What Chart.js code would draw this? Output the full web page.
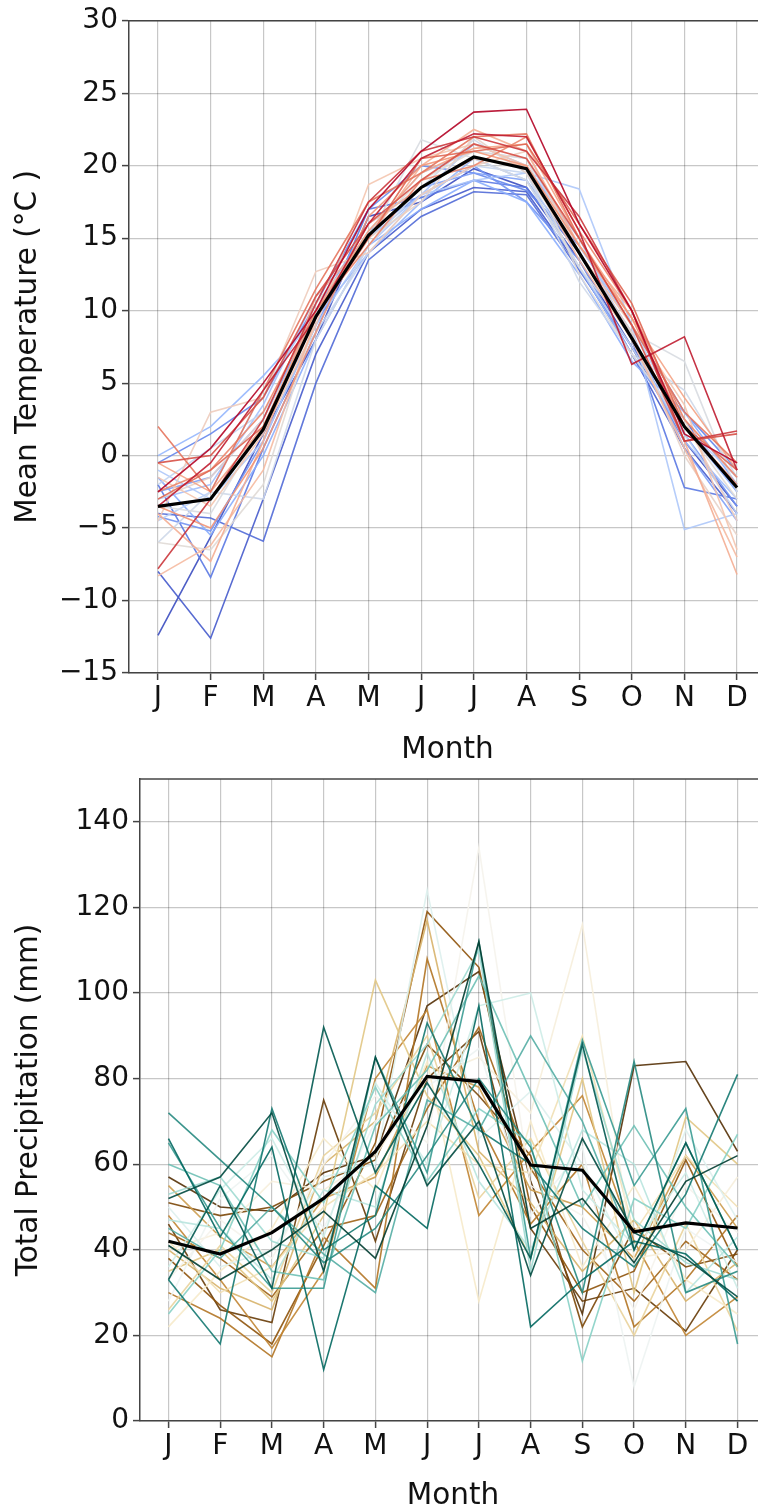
<!DOCTYPE html>
<html>
<head>
<meta charset="utf-8">
<script src="https://cdn.jsdelivr.net/npm/chart.js@4.4.1/dist/chart.umd.min.js"></script>
<style>
  html, body { margin: 0; padding: 0; background: #fff; overflow: hidden; width: 758px; height: 1512px; }
  #topBox { position: absolute; left: 0; top: 0; width: 780px; height: 770px; }
  #botBox { position: absolute; left: 0; top: 755px; width: 780px; height: 760px; }
</style>
</head>
<body>
<div id="topBox"><canvas id="tempChart"></canvas></div>
<div id="botBox"><canvas id="precipChart"></canvas></div>
<script>
// Data
const months = ['J', 'F', 'M', 'A', 'M', 'J', 'J', 'A', 'S', 'O', 'N', 'D'];
const tempTicks = [-15, -10, -5, 0, 5, 10, 15, 20, 25, 30];
const precipTicks = [0, 20, 40, 60, 80, 100, 120, 140];

const tempMean = [-3.5, -3.0, 1.8, 9.6, 15.2, 18.5, 20.6, 19.8, 14.0, 8.1, 2.0, -2.2];
const tempYears = [
    [-12.4, -5.6, 1.5, 8.0, 16.5, 17.5, 19.8, 18.5, 13.5, 7.5, 1.0, -3.5],
    [-8.0, -12.6, -3.0, 7.0, 14.0, 17.0, 18.5, 18.2, 13.0, 7.0, 0.5, -4.0],
    [-4.0, -4.3, -5.9, 5.0, 13.5, 16.5, 18.2, 18.0, 12.8, 7.5, 2.5, -2.5],
    [-2.0, -8.4, 0.5, 8.5, 17.0, 17.8, 19.0, 18.5, 14.0, 8.0, -2.2, -3.0],
    [-0.5, 1.5, 4.0, 10.5, 17.0, 20.0, 19.5, 18.3, 14.5, 9.0, 3.0, -1.0],
    [-4.2, -5.2, 1.0, 9.0, 15.5, 18.0, 20.0, 17.5, 13.5, 7.0, 1.5, -3.5],
    [-2.5, -1.5, 2.5, 10.0, 16.0, 18.5, 19.5, 19.0, 14.0, 8.5, 0.5, -4.5],
    [-1.5, -5.5, 0.0, 8.0, 14.5, 17.0, 19.0, 17.5, 12.5, 6.5, 3.0, -2.0],
    [0.0, 2.0, 5.5, 9.5, 14.0, 17.5, 20.5, 19.0, 13.0, 7.0, 2.0, -2.5],
    [-3.0, -2.0, 3.5, 11.0, 15.0, 18.0, 21.5, 20.0, 15.0, 8.0, 1.0, -3.0],
    [-1.0, -3.0, 1.0, 9.0, 14.5, 18.0, 19.0, 19.5, 18.4, 9.0, -5.1, -4.0],
    [-4.5, -2.5, 4.5, 10.0, 15.5, 19.5, 21.0, 20.5, 14.5, 9.0, 2.0, -1.5],
    [-2.0, 0.5, 3.0, 8.5, 14.0, 18.0, 20.0, 19.5, 13.0, 7.5, 1.5, -4.0],
    [-6.0, -2.5, -3.0, 8.0, 14.5, 18.5, 21.8, 19.5, 12.0, 7.0, 4.5, -1.5],
    [-3.5, -4.0, 2.0, 10.0, 15.0, 21.8, 20.5, 19.0, 13.0, 8.5, 6.5, -2.5],
    [-6.0, -6.5, -2.0, 9.5, 15.5, 19.0, 21.0, 20.5, 12.5, 7.0, 2.0, -3.0],
    [-3.0, -1.5, 2.5, 10.5, 15.0, 17.5, 22.0, 19.5, 14.0, 8.5, 0.0, -5.5],
    [-4.5, 3.0, 4.0, 12.7, 14.0, 18.0, 20.0, 21.0, 14.0, 8.0, 2.5, -4.5],
    [-1.5, -3.5, 1.5, 9.0, 18.7, 20.5, 21.5, 20.0, 14.0, 9.0, 3.5, -6.5],
    [-8.3, -6.2, -1.0, 9.5, 16.0, 18.5, 20.5, 20.0, 13.5, 8.0, 0.5, -7.0],
    [-4.0, -7.3, 1.0, 11.0, 15.0, 20.0, 22.5, 21.0, 14.5, 10.0, 1.0, -8.2],
    [-0.5, -2.5, 2.0, 10.0, 15.5, 19.5, 21.2, 21.5, 15.0, 9.5, 4.0, -1.0],
    [-3.5, -5.0, 0.5, 8.5, 16.5, 20.0, 21.0, 20.0, 14.5, 9.5, 2.0, -2.0],
    [-2.5, -1.0, 3.0, 10.0, 14.5, 19.0, 20.0, 22.0, 15.5, 10.0, 2.5, -1.5],
    [2.0, -2.5, 4.5, 11.5, 17.5, 19.5, 22.0, 22.2, 15.0, 9.0, 3.0, -0.5],
    [-3.0, -1.0, 2.0, 9.5, 15.0, 20.5, 21.0, 21.5, 16.0, 10.5, 2.0, -1.0],
    [-0.5, 0.0, 4.0, 11.0, 16.0, 19.0, 21.5, 20.5, 15.0, 9.0, 1.0, 1.5],
    [-7.8, -3.0, 2.5, 10.5, 17.5, 21.0, 22.0, 21.0, 16.5, 10.0, 1.0, 1.7],
    [-3.5, -0.5, 4.5, 9.5, 16.0, 20.5, 22.2, 22.0, 15.5, 6.3, 8.2, -1.0],
    [-2.5, 0.5, 5.0, 10.0, 17.0, 21.0, 23.7, 23.9, 16.0, 10.0, 1.5, -0.5]
];

const precipMean = [42, 39, 44, 52, 63, 80.5, 79.3, 59.8, 58.6, 44.2, 46.3, 45.1];
const precipYears = [
    [57, 50, 49, 58, 62, 97, 105, 56, 25, 83, 84, 63],
    [46, 26, 23, 75, 42, 80, 91, 45, 28, 31, 21, 40],
    [51, 48, 50, 56, 61, 88, 76, 62, 22, 45, 36, 39],
    [38, 27, 18, 41, 65, 119, 106, 50, 30, 35, 61, 36],
    [44, 38, 29, 45, 48, 73, 92, 59, 40, 28, 42, 33],
    [30, 24, 15, 43, 31, 108, 70, 46, 60, 22, 33, 48],
    [48, 33, 17, 35, 80, 96, 48, 63, 76, 42, 20, 29],
    [55, 43, 36, 52, 57, 83, 78, 54, 50, 38, 62, 45],
    [40, 31, 26, 60, 70, 117, 63, 51, 35, 47, 28, 37],
    [35, 40, 28, 48, 103, 76, 62, 38, 80, 30, 71, 60],
    [26, 41, 30, 62, 72, 90, 52, 66, 42, 20, 46, 21],
    [42, 30, 36, 50, 58, 70, 60, 58, 90, 44, 62, 50],
    [22, 35, 45, 66, 54, 84, 28, 70, 36, 55, 33, 25],
    [40, 44, 56, 54, 62, 80, 85, 72, 116, 38, 40, 57],
    [33, 47, 38, 60, 76, 65, 134, 55, 48, 26, 55, 44],
    [28, 52, 62, 45, 70, 78, 87, 48, 64, 8, 45, 37],
    [50, 36, 40, 57, 60, 124, 66, 77, 60, 36, 68, 47],
    [36, 54, 66, 43, 79, 60, 97, 100, 54, 41, 58, 31],
    [47, 45, 33, 54, 50, 86, 56, 40, 68, 60, 30, 43],
    [53, 57, 42, 38, 74, 88, 110, 35, 87, 47, 37, 33],
    [25, 40, 68, 51, 78, 56, 73, 65, 14, 52, 45, 67],
    [60, 55, 35, 33, 69, 82, 104, 77, 50, 69, 50, 36],
    [45, 38, 50, 39, 30, 75, 68, 90, 70, 40, 65, 40],
    [65, 45, 31, 31, 85, 58, 112, 38, 89, 55, 73, 18],
    [72, 61, 50, 37, 45, 62, 80, 64, 30, 84, 30, 35],
    [33, 18, 73, 40, 48, 93, 68, 60, 45, 36, 53, 81],
    [66, 43, 64, 12, 55, 45, 97, 22, 33, 42, 39, 28],
    [33, 55, 31, 92, 58, 79, 60, 38, 88, 40, 65, 40],
    [52, 57, 72, 35, 85, 55, 70, 34, 66, 44, 38, 29],
    [41, 33, 40, 49, 38, 69, 112, 45, 52, 37, 56, 62]
];

// Colormaps (coolwarm / BrBG)
const coolwarm = [[59,76,192],[98,130,234],[141,176,254],[184,208,249],[221,221,221],
                  [245,196,173],[244,154,123],[222,96,77],[180,4,38]];
const brbg = [[84,48,5],[140,81,10],[191,129,45],[223,194,125],[246,232,195],[245,245,245],
              [199,234,229],[128,205,193],[53,151,143],[1,102,94],[0,60,48]];

function cmap(stops, t, alpha) {
    const pos = t * (stops.length - 1);
    const k = Math.min(Math.floor(pos), stops.length - 2);
    const f = pos - k;
    const c = stops[k].map((v, j) => Math.round(v + (stops[k + 1][j] - v) * f));
    return `rgba(${c[0]},${c[1]},${c[2]},${alpha})`;
}

function buildDatasets(series, mean, stops) {
    const n = series.length;
    const ds = series.map((vals, i) => ({
        data: vals.map((v, k) => ({ x: k, y: v })),
        borderColor: cmap(stops, i / (n - 1), 0.9),
        borderWidth: 1.6,
        pointRadius: 0,
        tension: 0,
        order: n - i
    }));
    ds.push({
        data: mean.map((v, k) => ({ x: k, y: v })),
        borderColor: '#000',
        borderWidth: 3.2,
        pointRadius: 0,
        tension: 0,
        order: -1
    });
    return ds;
}

const spineColor = '#444';
const gridColor = 'rgba(0,0,0,0.22)';
const textColor = '#111';
const tickFont = { family: 'DejaVu Sans', size: 28 };
const titleFont = { family: 'DejaVu Sans', size: 29.5 };

const topSpine = {
    id: 'topSpine',
    afterDatasetsDraw(chart) {
        const { ctx, chartArea: a } = chart;
        ctx.save();
        ctx.strokeStyle = spineColor;
        ctx.lineWidth = 1.5;
        ctx.beginPath();
        ctx.moveTo(a.left, a.top);
        ctx.lineTo(a.right, a.top);
        ctx.stroke();
        ctx.restore();
    }
};

function makeChart(id, series, mean, stops, yCfg) {
    return new Chart(document.getElementById(id), {
        type: 'line',
        data: { datasets: buildDatasets(series, mean, stops) },
        options: {
            responsive: true,
            maintainAspectRatio: false,
            animation: false,
            devicePixelRatio: 1,
            layout: { padding: { top: yCfg.padTop, right: 14, left: 0, bottom: 0 } },
            plugins: { legend: { display: false }, tooltip: { enabled: false } },
            scales: {
                x: {
                    type: 'linear',
                    min: -0.55,
                    max: 11.55,
                    afterBuildTicks: s => { s.ticks = months.map((m, i) => ({ value: i })); },
                    afterFit: s => { s.height = yCfg.xHeight; },
                    ticks: {
                        callback: v => months[v],
                        font: tickFont, color: textColor, padding: 2,
                        autoSkip: false, maxRotation: 0
                    },
                    grid: { color: gridColor, lineWidth: 1.2, tickColor: spineColor, tickLength: 7, tickWidth: 1.5 },
                    border: { color: spineColor, width: 1.5 },
                    title: { display: true, text: 'Month', font: titleFont, color: textColor,
                             padding: { top: 0, bottom: yCfg.xTitlePad } }
                },
                y: {
                    type: 'linear',
                    min: yCfg.min,
                    max: yCfg.max,
                    afterBuildTicks: s => { s.ticks = yCfg.ticks.map(v => ({ value: v })); },
                    afterFit: s => { s.width = yCfg.yWidth; },
                    ticks: {
                        callback: v => v < 0 ? '\u2212' + Math.abs(v) : String(v),
                        font: tickFont, color: textColor, padding: 4
                    },
                    grid: { color: gridColor, lineWidth: 1.2, tickColor: spineColor, tickLength: 7, tickWidth: 1.5 },
                    border: { color: spineColor, width: 1.5 },
                    title: { display: true, text: yCfg.title, font: titleFont, color: textColor,
                             padding: { top: yCfg.yTitlePad, bottom: 0 } }
                }
            }
        },
        plugins: [topSpine]
    });
}

makeChart('tempChart', tempYears, tempMean, coolwarm, {
    min: -15, max: 30, ticks: tempTicks, title: 'Mean Temperature (°C )',
    padTop: 20, xHeight: 97, yWidth: 129, xTitlePad: 2, yTitlePad: 11
});

makeChart('precipChart', precipYears, precipMean, brbg, {
    min: 0, max: 150, ticks: precipTicks, title: 'Total Precipitation (mm)',
    padTop: 24, xHeight: 94, yWidth: 140, xTitlePad: 1, yTitlePad: 12
});
</script>
</body>
</html>
